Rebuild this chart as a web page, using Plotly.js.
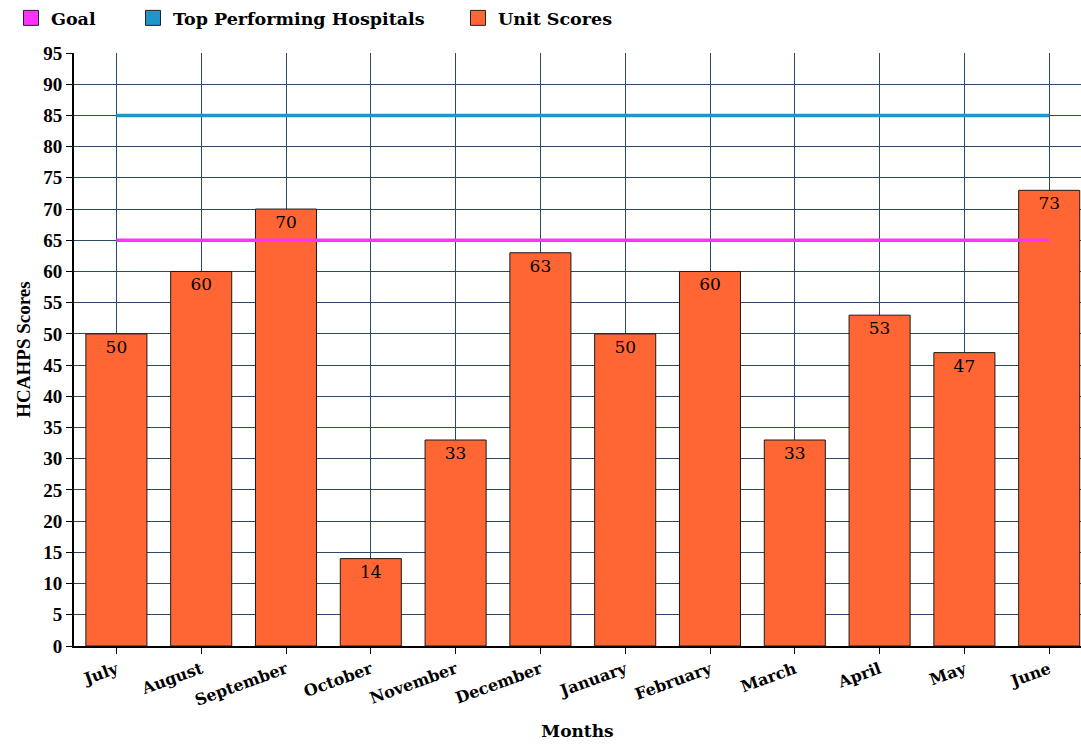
<!DOCTYPE html>
<html><head><meta charset="utf-8">
<script src="https://cdn.plot.ly/plotly-3.0.1.min.js"></script>
<style>html,body{margin:0;padding:0;background:#fff;overflow:hidden}</style>
</head><body>
<div id="chart" style="width:1081px;height:747px"></div>
<script>
const months = ["July","August","September","October","November","December","January","February","March","April","May","June"];
const unitScores = [50,60,70,14,33,63,50,60,33,53,47,73];
const goal = [65,65,65,65,65,65,65,65,65,65,65,65];
const topHospitals = [85,85,85,85,85,85,85,85,85,85,85,85];
const yTicks = [0,5,10,15,20,25,30,35,40,45,50,55,60,65,70,75,80,85,90,95];
const legendNames = ["Goal","Top Performing Hospitals","Unit Scores"];
const colors = {goal:"#FF33FF", top:"#1E96C8", unit:"#FF6633"};

const serif = "DejaVu Serif";
function legendKey(name, color, legendId){
  return {type:"scatter", mode:"markers", name:name, x:[null], y:[null], legend:legendId,
          marker:{symbol:"square", size:15, color:color, line:{color:"#222", width:1}},
          showlegend:true, hoverinfo:"skip"};
}
const traces = [
  {type:"bar", name:"Unit Scores", x:months, y:unitScores, text:unitScores.map(String),
   textposition:"inside", insidetextanchor:"end", textangle:0,
   textfont:{family:serif, size:17, color:"#000"},
   marker:{color:colors.unit, line:{color:"#1a1a1a", width:1}}, showlegend:false, hoverinfo:"skip"},
  {type:"scatter", mode:"lines", name:"Goal", x:months, y:goal,
   line:{color:colors.goal, width:3.5}, showlegend:false, hoverinfo:"skip"},
  {type:"scatter", mode:"lines", name:"Top Performing Hospitals", x:months, y:topHospitals,
   line:{color:colors.top, width:3.5}, showlegend:false, hoverinfo:"skip"},
  legendKey(legendNames[0], colors.goal, "legend"),
  legendKey(legendNames[1], colors.top, "legend2"),
  legendKey(legendNames[2], colors.unit, "legend3")
];

function legendBox(px){
  return {orientation:"h", xref:"container", yref:"container", x:px/1081, y:1.0, xanchor:"left", yanchor:"top",
          font:{family:serif, size:17.5, color:"#000", weight:"bold"}, bgcolor:"rgba(0,0,0,0)"};
}
const layout = {
  width:1081, height:747,
  margin:{l:74, r:0, t:53, b:101, pad:0},
  paper_bgcolor:"#fff", plot_bgcolor:"#fff",
  bargap:0.28,
  showlegend:true,
  legend:legendBox(11), legend2:legendBox(133), legend3:legendBox(458),
  xaxis:{type:"category", range:[-0.5, 11.375], tickangle:-20,
         tickfont:{family:serif, size:16, color:"#000", weight:"bold"},
         showgrid:true, gridcolor:"#2B4866", gridwidth:1,
         showline:true, linecolor:"#000", linewidth:2,
         ticks:"outside", ticklen:6, tickcolor:"#000",
         title:{text:"Months", font:{family:serif, size:17, color:"#000", weight:"bold"}, standoff:16},
         zeroline:false, fixedrange:true},
  yaxis:{range:[0,95], tickvals:yTicks, ticktext:yTicks.map(String),
         tickfont:{family:"Liberation Serif", size:19, color:"#000", weight:"bold"},
         showgrid:true, gridcolor:"#2B4866", gridwidth:1,
         showline:true, linecolor:"#000", linewidth:2,
         ticks:"outside", ticklen:6, tickcolor:"#000",
         title:{text:"HCAHPS Scores", font:{family:"Liberation Serif", size:19, color:"#000", weight:"bold"}, standoff:8},
         zeroline:false, fixedrange:true}
};
Plotly.newPlot("chart", traces, layout, {displayModeBar:false, staticPlot:true});
</script>
</body></html>
